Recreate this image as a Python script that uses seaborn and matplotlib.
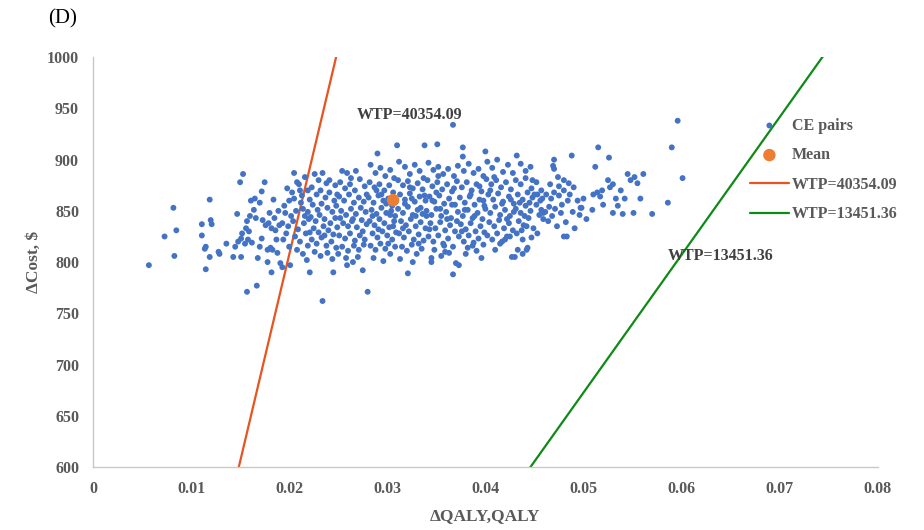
import numpy as np
import pandas as pd
import matplotlib
matplotlib.use('Agg')
import matplotlib.pyplot as plt
import seaborn as sns

# incremental QALY (x 1e-4) and incremental cost ($) of each bootstrap CE pair
ce_pairs = [
    (57, 797), (73, 825), (82, 853), (85, 831), (83, 806),
    (111, 837), (111, 826), (115, 815), (114, 813), (115, 793), (119, 861), (119, 805), (120, 841),
    (121, 837), (128, 810), (129, 808), (136, 818), (143, 805), (147, 847), (150, 878),
    (153, 886), (151, 805), (157, 771), (167, 777), (172, 869), (175, 878), (161, 860), (145, 815),
    (148, 820), (151, 823), (155, 818), (158, 822), (162, 819), (152, 828), (156, 833), (159, 830),
    (157, 840), (160, 845), (164, 851), (166, 843), (170, 815), (172, 823), (173, 841), (176, 836),
    (179, 838), (182, 833), (186, 831), (190, 836), (178, 812), (181, 814), (183, 812), (168, 804),
    (178, 800), (182, 790), (188, 809), (165, 862), (170, 858), (180, 848), (185, 843), (189, 850),
    (187, 822), (184, 861),
    (191, 799), (193, 795), (201, 797), (198, 872), (203, 868), (208, 878), (210, 876), (216, 883),
    (195, 855), (200, 860), (205, 862), (212, 858), (196, 848), (202, 845), (207, 850), (214, 852),
    (219, 849), (193, 838), (199, 835), (204, 840), (209, 832), (215, 838), (220, 842), (197, 828),
    (206, 825), (211, 820), (217, 828), (200, 815), (208, 812), (214, 808), (219, 816), (221, 790),
    (218, 802), (213, 865), (219, 870), (205, 887), (211, 870), (194, 822), (216, 845), (221, 861),
    (234, 762), (245, 790), (234, 887), (226, 886), (238, 877), (223, 873), (228, 866), (232, 870),
    (237, 863), (241, 868), (246, 860), (224, 856), (229, 851), (233, 857), (239, 853), (244, 849),
    (248, 855), (222, 844), (227, 840), (231, 846), (236, 842), (242, 838), (247, 843), (225, 833),
    (230, 829), (235, 835), (240, 831), (245, 827), (249, 834), (223, 822), (228, 818), (233, 824),
    (238, 816), (243, 820), (248, 814), (226, 810), (232, 806), (239, 809), (244, 803), (250, 808),
    (241, 880), (247, 875), (230, 880), (236, 826), (249, 866), (221, 829),
    (254, 889), (259, 887), (259, 797), (258, 804), (265, 800), (270, 805), (275, 792), (252, 878),
    (257, 872), (262, 876), (267, 870), (272, 881), (277, 874), (251, 864), (256, 860), (261, 866),
    (266, 858), (271, 863), (276, 859), (253, 850), (258, 846), (263, 852), (268, 847), (273, 853),
    (278, 849), (255, 838), (260, 835), (264, 840), (269, 834), (274, 841), (279, 837), (251, 826),
    (257, 823), (262, 828), (267, 821), (272, 826), (277, 822), (254, 815), (260, 811), (266, 816),
    (271, 812), (276, 817), (263, 882), (268, 889), (279, 866), (252, 843), (275, 830), (265, 842),
    (280, 771), (290, 906), (283, 895), (288, 887), (293, 892), (298, 884), (303, 890), (307, 882),
    (282, 878), (287, 873), (292, 876), (297, 870), (302, 875), (306, 868), (281, 863), (286, 858),
    (291, 865), (296, 860), (301, 862), (305, 855), (309, 860), (284, 851), (289, 847), (294, 853),
    (299, 848), (304, 850), (308, 845), (282, 840), (287, 836), (292, 842), (297, 838), (302, 834),
    (307, 840), (285, 828), (290, 824), (295, 830), (300, 826), (305, 822), (309, 829), (283, 816),
    (288, 812), (293, 818), (298, 813), (303, 808), (308, 815), (286, 804), (296, 801), (301, 818),
    (294, 866), (299, 857), (285, 845), (291, 832), (306, 835), (303, 846), (289, 870),
    (310, 914), (321, 789), (338, 914), (312, 898), (318, 893), (323, 886), (328, 895), (333, 889),
    (337, 882), (311, 880), (316, 875), (321, 879), (326, 872), (331, 877), (336, 871), (313, 866),
    (318, 861), (323, 867), (328, 859), (333, 864), (339, 860), (311, 852), (316, 848), (321, 854),
    (326, 846), (331, 851), (336, 847), (314, 840), (319, 836), (324, 842), (329, 835), (334, 839),
    (339, 833), (312, 828), (317, 824), (322, 830), (327, 822), (332, 827), (337, 821), (315, 815),
    (320, 811), (325, 817), (330, 808), (335, 813), (313, 803), (326, 800), (318, 857), (334, 853),
    (323, 873), (329, 845), (338, 865), (316, 833), (332, 818), (340, 845), (325, 862),
    (351, 915), (367, 934), (367, 788), (345, 804), (345, 800), (359, 810), (355, 806), (342, 897),
    (347, 890), (352, 893), (357, 886), (362, 891), (368, 884), (341, 880), (346, 874), (351, 878),
    (356, 871), (361, 876), (366, 869), (343, 864), (348, 859), (353, 865), (358, 857), (363, 862),
    (369, 856), (340, 850), (345, 846), (350, 852), (355, 845), (360, 849), (365, 843), (344, 838),
    (349, 833), (354, 839), (359, 831), (364, 836), (369, 830), (342, 825), (347, 820), (352, 826),
    (357, 818), (362, 823), (367, 815), (348, 812), (358, 816), (370, 799), (363, 809), (352, 884),
    (346, 860), (361, 842), (368, 872), (354, 852), (343, 832), (366, 856), (350, 868),
    (377, 912), (377, 903), (373, 797), (387, 816), (382, 814), (372, 894), (378, 889), (383, 896),
    (388, 887), (393, 891), (398, 884), (371, 879), (376, 873), (381, 878), (386, 870), (391, 876),
    (396, 869), (374, 863), (379, 858), (384, 864), (389, 856), (394, 861), (399, 855), (372, 849),
    (377, 845), (382, 851), (387, 843), (392, 848), (397, 842), (375, 837), (380, 832), (385, 838),
    (390, 830), (395, 835), (399, 829), (373, 825), (378, 820), (383, 826), (388, 819), (393, 823),
    (398, 817), (380, 808), (391, 811), (396, 804), (385, 866), (379, 851), (394, 874), (371, 840),
    (389, 845), (376, 830), (398, 860),
    (400, 908), (402, 898), (407, 892), (412, 900), (418, 888), (423, 895), (428, 887), (401, 881),
    (406, 876), (411, 880), (416, 873), (421, 878), (426, 871), (403, 866), (408, 861), (413, 867),
    (418, 859), (424, 864), (429, 857), (400, 852), (405, 848), (410, 854), (415, 846), (420, 851),
    (425, 845), (429, 849), (404, 839), (409, 835), (414, 841), (419, 833), (424, 838), (428, 831),
    (402, 826), (407, 822), (412, 828), (417, 820), (422, 825), (425, 825), (415, 818), (420, 822),
    (427, 805), (430, 805), (410, 812), (405, 870), (417, 857), (422, 842), (409, 883), (426, 861),
    (438, 822), (433, 812), (438, 808), (442, 812), (443, 814), (432, 904), (436, 896), (441, 889),
    (446, 893), (431, 880), (436, 876), (441, 882), (447, 872), (452, 878), (457, 870), (433, 866),
    (438, 861), (443, 868), (448, 863), (453, 866), (458, 862), (431, 852), (436, 848), (441, 855),
    (446, 850), (452, 856), (457, 851), (434, 840), (439, 836), (444, 843), (449, 833), (455, 846),
    (459, 842), (432, 828), (437, 831), (442, 835), (447, 824), (453, 828), (445, 858), (450, 866),
    (440, 845), (448, 880), (456, 860), (435, 858), (459, 848),
    (470, 900), (470, 891), (469, 894), (474, 883), (480, 880), (488, 904), (475, 874), (485, 877),
    (490, 873), (486, 866), (470, 868), (475, 865), (462, 866), (467, 862), (480, 870), (465, 854),
    (471, 852), (477, 848), (482, 839), (491, 833), (483, 825), (480, 825), (464, 840), (468, 845),
    (473, 835), (478, 856), (494, 860), (497, 853), (496, 846), (466, 876), (484, 860), (461, 849),
    (489, 849),
    (500, 862), (498, 853), (509, 851), (512, 893), (515, 912), (510, 866), (514, 868), (517, 864),
    (519, 870), (526, 902), (525, 880), (527, 873), (530, 876), (533, 862), (542, 862), (530, 848),
    (540, 847), (551, 848), (545, 886), (548, 880), (555, 877), (552, 883), (503, 842), (520, 856),
    (538, 870), (535, 855),
    (561, 886), (558, 862), (570, 847), (586, 858), (590, 912), (596, 938), (601, 882),
]

mean_qaly = 0.0306
mean_cost = 860.5

wtp_values = [40354.09, 13451.36]
wtp_colors = ['#E8531F', '#0E8A16']
line_qaly = [0.0, 0.08]

x_ticks = [0, 0.01, 0.02, 0.03, 0.04, 0.05, 0.06, 0.07, 0.08]
x_labels = ['0', '0.01', '0.02', '0.03', '0.04', '0.05', '0.06', '0.07', '0.08']
y_ticks = [600, 650, 700, 750, 800, 850, 900, 950, 1000]

df = pd.DataFrame(ce_pairs, columns=['qaly', 'cost'])
df['qaly'] = df['qaly'] / 10000

sns.set_style('white')
plt.rcParams['font.family'] = ['Liberation Serif', 'DejaVu Serif']
grey = '#595959'

fig = plt.figure(figsize=(9.24, 5.30), dpi=100)
ax = fig.add_axes([0.1006, 0.119, 0.8494, 0.773])

sns.scatterplot(data=df, x='qaly', y='cost', ax=ax, color='#4472C4', s=18,
                edgecolor='none', label='CE pairs', zorder=3)
sns.scatterplot(x=[mean_qaly], y=[mean_cost], ax=ax, color='#ED7D31', s=80,
                edgecolor='none', label='Mean', zorder=4)
for wtp, col in zip(wtp_values, wtp_colors):
    lx = np.array(line_qaly)
    sns.lineplot(x=lx, y=wtp * lx, ax=ax, color=col, linewidth=1.6,
                 label=f'WTP={wtp:.2f}', zorder=2)

ax.set_xlim(0, 0.08)
ax.set_ylim(600, 1000)
ax.set_xticks(x_ticks)
ax.set_xticklabels(x_labels)
ax.set_yticks(y_ticks)
ax.tick_params(axis='both', length=0, pad=10, labelsize=11.5, labelcolor=grey)
for lab in ax.get_xticklabels() + ax.get_yticklabels():
    lab.set_fontweight('bold')

for side in ['top', 'right']:
    ax.spines[side].set_visible(False)
for side in ['left', 'bottom']:
    ax.spines[side].set_color('#C8C8C8')
    ax.spines[side].set_linewidth(1.0)

ax.set_xlabel('ΔQALY,QALY', fontsize=12.5, fontweight='bold', color=grey, labelpad=8)
ax.set_ylabel('ΔCost, $', fontsize=12.5, fontweight='bold', color=grey, labelpad=4)

ax.text(0.0323, 944, 'WTP=40354.09', fontsize=11.5, fontweight='bold', color='#404040',
        ha='center', va='center')
ax.text(0.0586, 806, 'WTP=13451.36', fontsize=11.5, fontweight='bold', color='#404040',
        ha='left', va='center')

leg = ax.legend(loc='upper left', bbox_to_anchor=(0.805, 0.79), bbox_transform=fig.transFigure,
                frameon=False, fontsize=11.5, labelspacing=0.85, handlelength=2.4,
                handletextpad=0.2, borderaxespad=0)
for t in leg.get_texts():
    t.set_fontweight('bold')
    t.set_color(grey)

fig.text(0.052, 0.965, '(D)', fontsize=15, color='black', ha='left', va='center')

fig.savefig('out.png', dpi=100, facecolor='white')
